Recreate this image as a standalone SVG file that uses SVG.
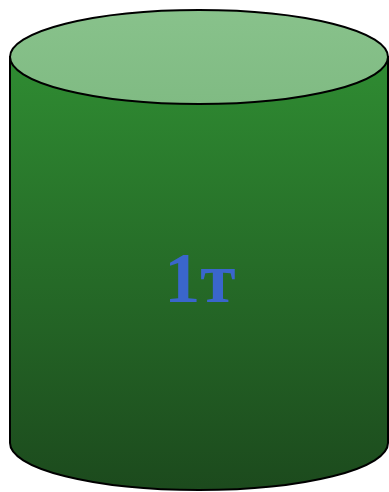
<svg xmlns="http://www.w3.org/2000/svg" width="389" height="492" viewBox="0 0 389 492">
<defs>
<linearGradient id="body" x1="0" y1="0" x2="0" y2="1">
<stop offset="0" stop-color="#2f8c32"/>
<stop offset="1" stop-color="#1c4a1d"/>
</linearGradient>
<linearGradient id="top" x1="0" y1="0" x2="0" y2="1">
<stop offset="0" stop-color="#88c28b"/>
<stop offset="1" stop-color="#80bb83"/>
</linearGradient>
</defs>
<style>
.st{stroke:#000;stroke-width:2}
.lbl{font-family:"Liberation Serif","Times New Roman",serif;font-weight:bold;font-size:72px;fill:#3a66cc}
</style>
<g id="cylinder">
<path class="st" fill="url(#body)" d="M10,57 L10,443 A189,47 0 0 0 388,443 L388,57 Z"/>
<ellipse class="st" fill="url(#top)" cx="199" cy="57" rx="189" ry="47"/>
<text class="lbl" x="200" y="302" text-anchor="middle">1т</text>
</g>
</svg>
